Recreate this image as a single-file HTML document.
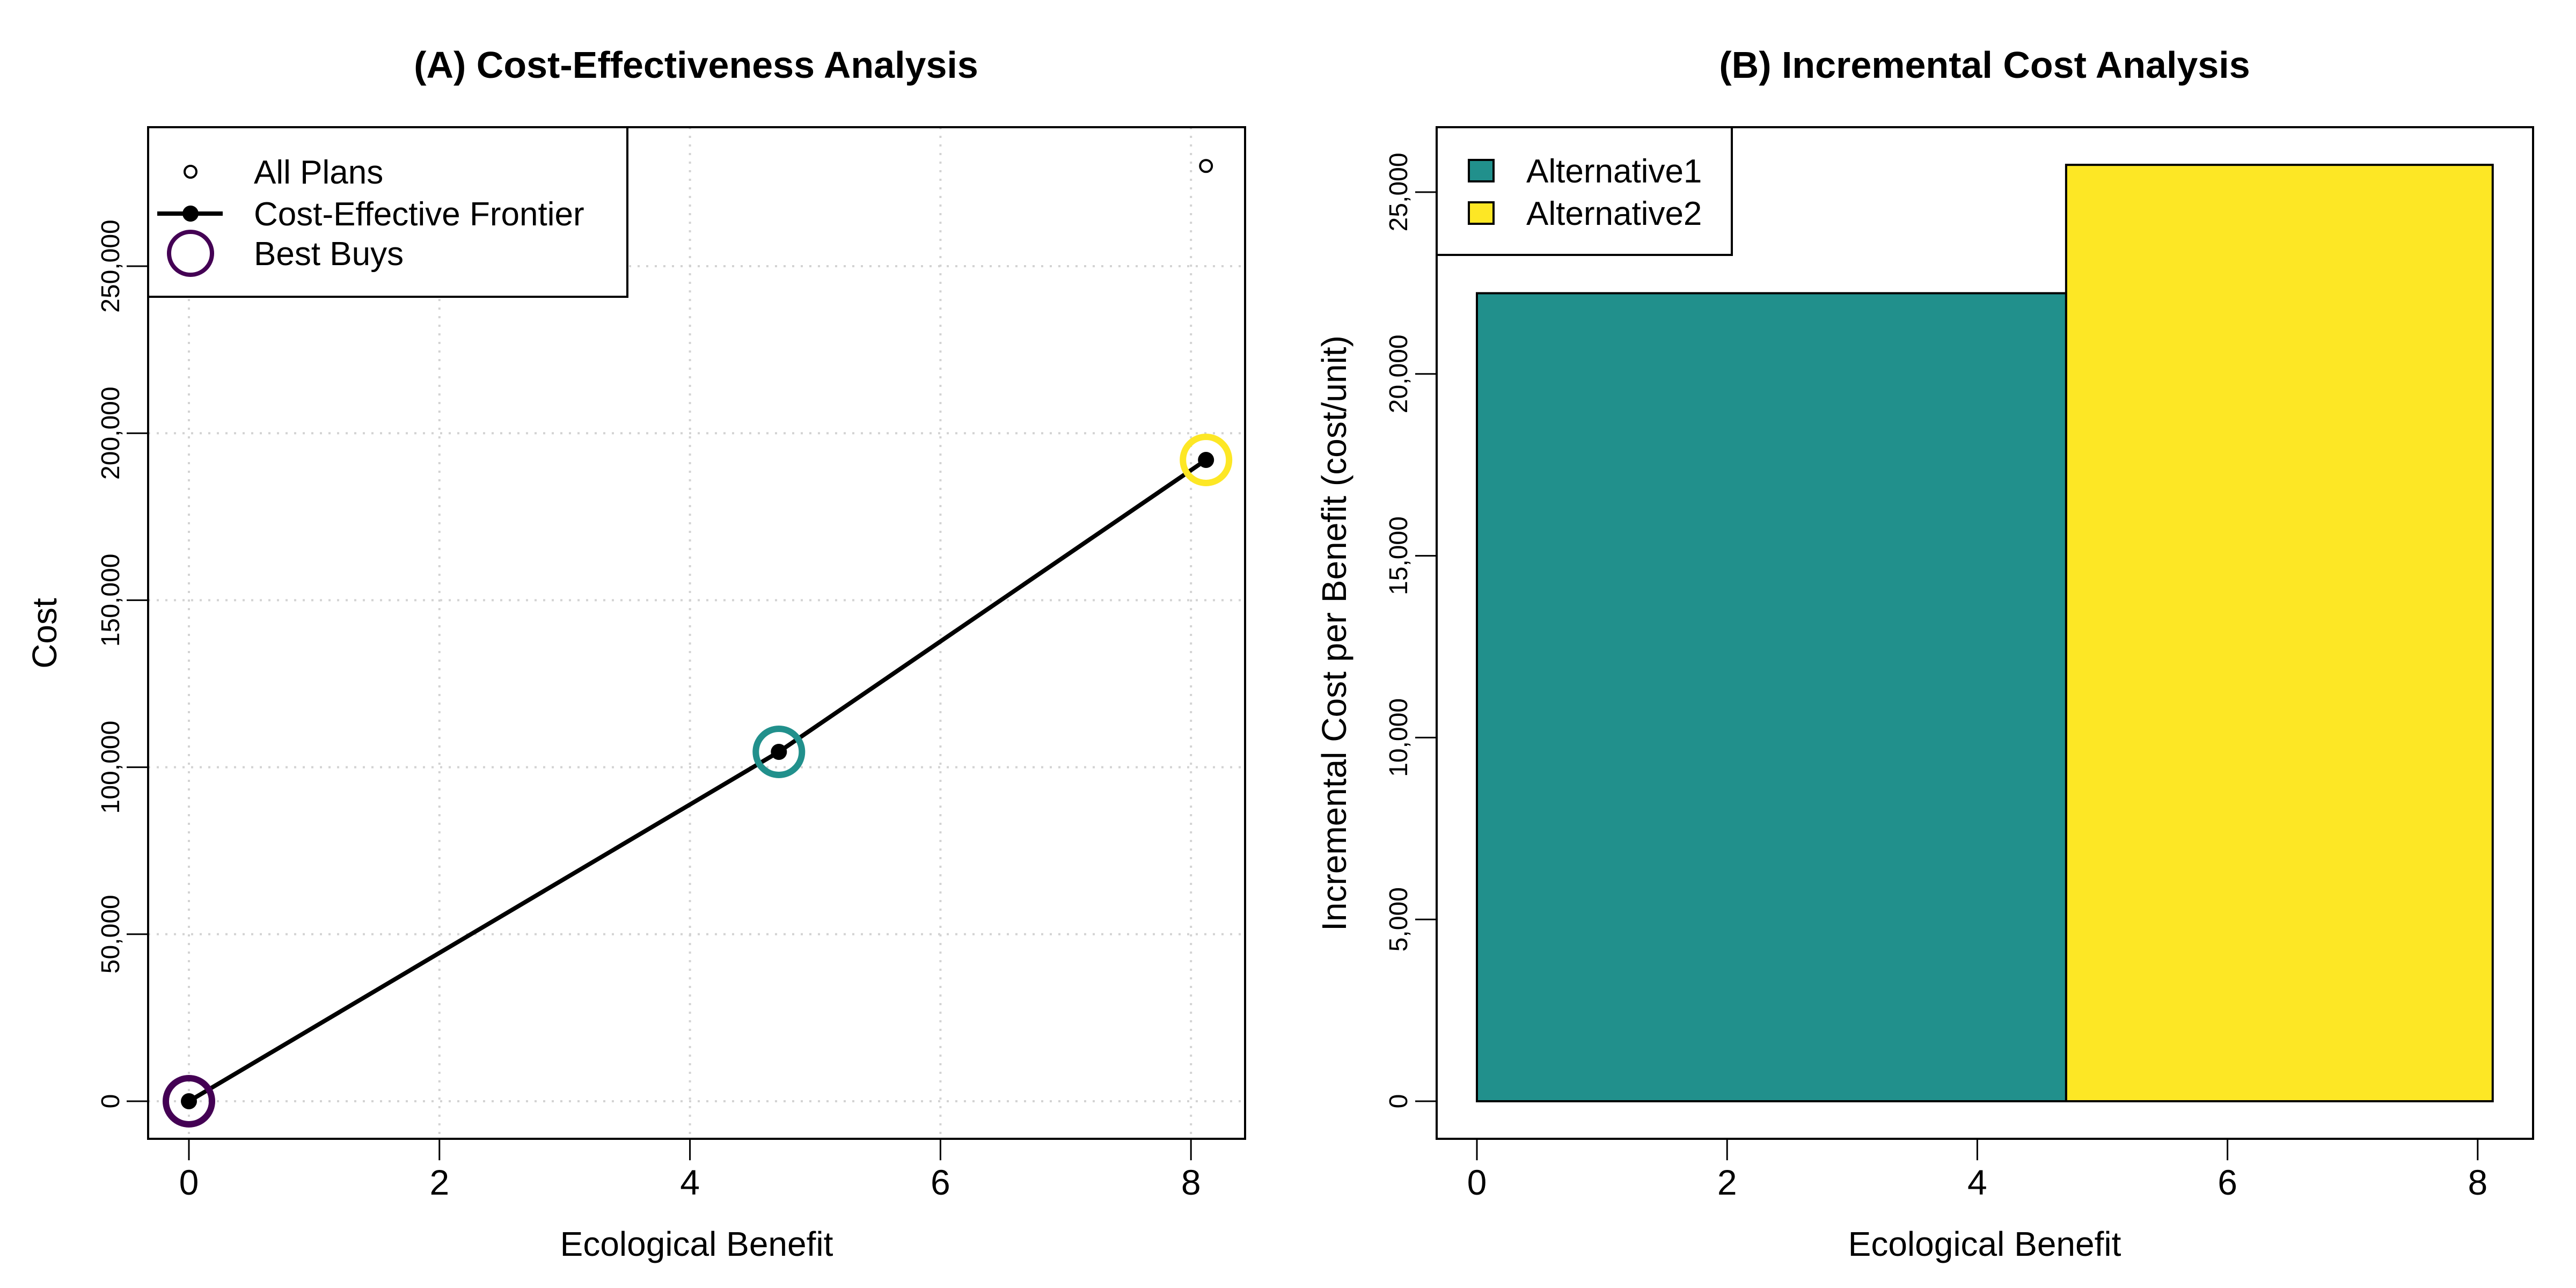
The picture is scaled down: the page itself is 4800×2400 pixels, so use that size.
<!DOCTYPE html>
<html><head><meta charset="utf-8"><style>
html,body{margin:0;padding:0;background:#fff}
svg{display:block;font-family:"Liberation Sans",Arial,sans-serif}
</style></head><body>
<svg id="chart" xmlns="http://www.w3.org/2000/svg" width="4800" height="2400" viewBox="0 0 4800 2400">
<rect width="4800" height="2400" fill="#fff"/>
<g id="pa"></g>
<g id="pb"></g>
</svg>
<script>
// Panel A data
const planBenefit = [0, 4.71, 8.12, 8.12];
const planCost = [0, 104600, 192000, 280000];
const frontierBenefit = [0, 4.71, 8.12];
const frontierCost = [0, 104600, 192000];
const bestBuyColors = ["#440154", "#21908C", "#FDE725"];
const aXTicks = [0, 2, 4, 6, 8];
const aYTicks = [0, 50000, 100000, 150000, 200000, 250000];
// Panel B data
const altNames = ["Alternative1", "Alternative2"];
const altStart = [0, 4.71];
const altEnd = [4.71, 8.12];
const altIncCost = [22220, 25750];
const altColors = ["#21908C", "#FDE725"];
const bXTicks = [0, 2, 4, 6, 8];
const bYTicks = [0, 5000, 10000, 15000, 20000, 25000];

const NS = "http://www.w3.org/2000/svg";
function mk(parent, tag, attrs, text) {
  const e = document.createElementNS(NS, tag);
  for (const k in attrs) e.setAttribute(k, attrs[k]);
  if (text !== undefined) e.textContent = text;
  parent.appendChild(e);
  return e;
}
const fmt = v => v.toLocaleString("en-US");

// ---------- Panel A ----------
const pa = document.getElementById("pa");
const A = {l: 276, r: 2320, t: 237, b: 2122};
const ax = v => 352 + v * 233.4;
const ay = v => 2052 - v / 50000 * 311.2;

let t = mk(pa, "text", {x: 1297, y: 145, "text-anchor": "middle", "font-size": 70, "font-weight": "bold"}, "(A) Cost-Effectiveness Analysis");



aXTicks.forEach(v => {
  let g = mk(pa, "line", {x1: ax(v), x2: ax(v), y1: A.t, y2: A.b, stroke: "#d3d3d3", "stroke-width": 4, "stroke-dasharray": "4 12"});
  
  
  let tk = mk(pa, "line", {x1: ax(v), x2: ax(v), y1: A.b, y2: A.b + 40, stroke: "#000", "stroke-width": 3});
  
  
  let lb = mk(pa, "text", {x: ax(v), y: 2226, "text-anchor": "middle", "font-size": 66}, String(v));
  
  
});
aYTicks.forEach(v => {
  let g = mk(pa, "line", {x1: A.l, x2: A.r, y1: ay(v), y2: ay(v), stroke: "#d3d3d3", "stroke-width": 4, "stroke-dasharray": "4 12"});
  
  
  let tk = mk(pa, "line", {x1: A.l - 40, x2: A.l, y1: ay(v), y2: ay(v), stroke: "#000", "stroke-width": 3});
  
  
  let lb = mk(pa, "text", {x: 0, y: 0, "text-anchor": "middle", "font-size": 48, transform: `translate(222,${ay(v)}) rotate(-90)`}, fmt(v));
  
  
});

let pts = frontierBenefit.map((b, i) => ax(b) + "," + ay(frontierCost[i])).join(" ");
let fl = mk(pa, "polyline", {points: pts, fill: "none", stroke: "#000", "stroke-width": 8});


planBenefit.forEach((b, i) => {
  let c = mk(pa, "circle", {cx: ax(b), cy: ay(planCost[i]), r: 11, fill: "none", stroke: "#000", "stroke-width": 4});
  
  
});
frontierBenefit.forEach((b, i) => {
  let c = mk(pa, "circle", {cx: ax(b), cy: ay(frontierCost[i]), r: 15, fill: "#000"});
  
  
  let bb = mk(pa, "circle", {cx: ax(b), cy: ay(frontierCost[i]), r: 43, fill: "none", stroke: bestBuyColors[i], "stroke-width": 12});
  
  
});

let lgA = mk(pa, "g", {});


mk(lgA, "rect", {x: A.l, y: A.t, width: 893, height: 316, fill: "#fff", stroke: "#000", "stroke-width": 4});
mk(lgA, "circle", {cx: 355, cy: 320, r: 11, fill: "none", stroke: "#000", "stroke-width": 4});
mk(lgA, "text", {x: 473, y: 342, "font-size": 62}, "All Plans");
mk(lgA, "line", {x1: 293, x2: 415, y1: 398, y2: 398, stroke: "#000", "stroke-width": 8});
mk(lgA, "circle", {cx: 355, cy: 398, r: 15, fill: "#000"});
mk(lgA, "text", {x: 473, y: 420, "font-size": 62}, "Cost-Effective Frontier");
mk(lgA, "circle", {cx: 355, cy: 472, r: 40, fill: "none", stroke: "#440154", "stroke-width": 8});
mk(lgA, "text", {x: 473, y: 494, "font-size": 62}, "Best Buys");

let boxA = mk(pa, "rect", {x: A.l, y: A.t, width: A.r - A.l, height: A.b - A.t, fill: "none", stroke: "#000", "stroke-width": 4});


let xl = mk(pa, "text", {x: 1298, y: 2340, "text-anchor": "middle", "font-size": 64}, "Ecological Benefit");


let yl = mk(pa, "text", {x: 0, y: 0, "text-anchor": "middle", "font-size": 64, transform: "translate(105,1180) rotate(-90)"}, "Cost");



// ---------- Panel B ----------
const pb = document.getElementById("pb");
const B = {l: 2677, r: 4720, t: 237, b: 2122};
const bx = v => 2752 + v * 233.1;
const by = v => 2052 - v / 5000 * 338.8;

t = mk(pb, "text", {x: 3698, y: 145, "text-anchor": "middle", "font-size": 70, "font-weight": "bold"}, "(B) Incremental Cost Analysis");



altNames.forEach((n, i) => {
  let r = mk(pb, "rect", {x: bx(altStart[i]), y: by(altIncCost[i]), width: bx(altEnd[i]) - bx(altStart[i]), height: by(0) - by(altIncCost[i]), fill: altColors[i], stroke: "#000", "stroke-width": 4});
  
  
});
bXTicks.forEach(v => {
  let tk = mk(pb, "line", {x1: bx(v), x2: bx(v), y1: B.b, y2: B.b + 40, stroke: "#000", "stroke-width": 3});
  
  
  let lb = mk(pb, "text", {x: bx(v), y: 2226, "text-anchor": "middle", "font-size": 66}, String(v));
  
  
});
bYTicks.forEach(v => {
  let tk = mk(pb, "line", {x1: B.l - 40, x2: B.l, y1: by(v), y2: by(v), stroke: "#000", "stroke-width": 3});
  
  
  let lb = mk(pb, "text", {x: 0, y: 0, "text-anchor": "middle", "font-size": 48, transform: `translate(2622,${by(v)}) rotate(-90)`}, fmt(v));
  
  
});

let lgB = mk(pb, "g", {});


mk(lgB, "rect", {x: B.l, y: B.t, width: 550, height: 238, fill: "#fff", stroke: "#000", "stroke-width": 4});
altNames.forEach((n, i) => {
  const cy = 318 + i * 79;
  mk(lgB, "rect", {x: 2737, y: cy - 20, width: 46, height: 40, fill: altColors[i], stroke: "#000", "stroke-width": 4});
  mk(lgB, "text", {x: 2844, y: cy + 22, "font-size": 62}, n);
});

let boxB = mk(pb, "rect", {x: B.l, y: B.t, width: B.r - B.l, height: B.b - B.t, fill: "none", stroke: "#000", "stroke-width": 4});


xl = mk(pb, "text", {x: 3698, y: 2340, "text-anchor": "middle", "font-size": 64}, "Ecological Benefit");


yl = mk(pb, "text", {x: 0, y: 0, "text-anchor": "middle", "font-size": 64, transform: "translate(2508,1180) rotate(-90)"}, "Incremental Cost per Benefit (cost/unit)");


</script>
</body></html>
